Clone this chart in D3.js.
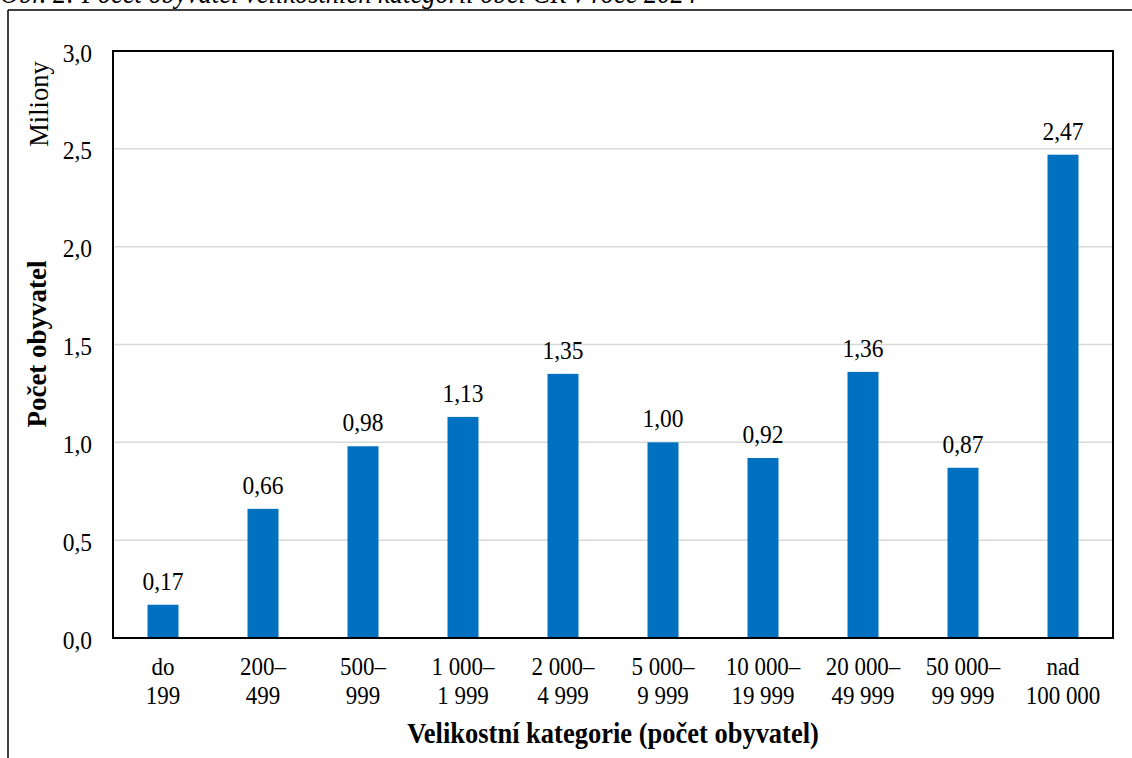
<!DOCTYPE html>
<html><head><meta charset="utf-8">
<script src="https://cdn.jsdelivr.net/npm/d3@7"></script>
<style>body{margin:0;background:#fff}svg{display:block}svg text{font-family:"Liberation Serif","Times New Roman",serif;fill:#000}</style>
</head><body>
<script>
const categories = [["do","199"],["200–","499"],["500–","999"],["1 000–","1 999"],["2 000–","4 999"],["5 000–","9 999"],["10 000–","19 999"],["20 000–","49 999"],["50 000–","99 999"],["nad","100 000"]];
const values = [0.17,0.66,0.98,1.13,1.35,1.00,0.92,1.36,0.87,2.47];
const yTicks = [0,0.5,1.0,1.5,2.0,2.5,3.0];
const title = "Obr. 2: Počet obyvatel velikostních kategorií obcí ČR v roce 2024";

const FF = "Liberation Serif, Times New Roman, serif";
const SY = 1.1; // vertical stretch of the reference's glyphs
const W=1132,H=758;
const svg=d3.select("body").append("svg").attr("width",W).attr("height",H).attr("font-family",FF);
const m={l:113,r:1113,t:51,b:638};
const x=d3.scaleBand().domain(d3.range(values.length)).range([m.l,m.r]).paddingInner(0.69).paddingOuter(0.345);
const y=d3.scaleLinear().domain([0,3]).range([m.b,m.t]);
const fmt=d=>d3.format(".2f")(d).replace(".",",");
const fmt1=d=>d3.format(".1f")(d).replace(".",",");
const tr=(px,py)=>`translate(${px},${py}) scale(1,${SY})`;

// outer frame
svg.append("line").attr("x1",8).attr("x2",W).attr("y1",10).attr("y2",10).attr("stroke","#000").attr("stroke-width",1.5);
svg.append("line").attr("x1",8).attr("x2",8).attr("y1",10).attr("y2",H).attr("stroke","#000").attr("stroke-width",1.5);
svg.append("text").attr("transform",tr(0,3)).attr("font-size",26.5).attr("font-style","italic").attr("fill","#1f2a3c").text(title);

// gridlines
svg.append("g").selectAll("line").data(yTicks.filter(d=>d>0&&d<3)).join("line")
 .attr("x1",m.l).attr("x2",m.r).attr("y1",d=>y(d)).attr("y2",d=>y(d)).attr("stroke","#d9d9d9").attr("stroke-width",1.5);

// bars
svg.append("g").selectAll("rect").data(values).join("rect")
 .attr("x",(d,i)=>x(i)).attr("width",x.bandwidth()).attr("y",d=>y(d)).attr("height",d=>y(0)-y(d)).attr("fill","#0070C0");
svg.append("g").selectAll("text").data(values).join("text")
 .attr("transform",(d,i)=>tr(x(i)+x.bandwidth()/2, y(d)-15)).attr("text-anchor","middle").attr("font-size",23.5).text(d=>fmt(d));

// plot border
svg.append("rect").attr("x",m.l).attr("y",m.t).attr("width",m.r-m.l).attr("height",m.b-m.t).attr("fill","none").attr("stroke","#000").attr("stroke-width",2);

// y axis labels
const ya=svg.append("g").attr("transform",`translate(${m.l},0)`).call(d3.axisLeft(y).tickValues(yTicks).tickSize(0).tickPadding(21).tickFormat(fmt1));
ya.attr("font-family",FF);
ya.select(".domain").remove();
ya.selectAll("text").attr("font-size",23.5).attr("fill","#000").attr("dy",null).attr("y",0)
  .attr("transform",`translate(0,10) scale(1,${SY})`);

// x labels
const xl=svg.append("g").selectAll("text").data(categories).join("text")
 .attr("text-anchor","middle").attr("font-size",23).attr("transform",(d,i)=>tr(x(i)+x.bandwidth()/2,675));
xl.each(function(d){const t=d3.select(this);
 t.append("tspan").attr("x",0).attr("y",0).text(d[0]);
 t.append("tspan").attr("x",0).attr("y",29.5/SY).text(d[1]);});

svg.append("text").attr("transform",tr((m.l+m.r)/2,743)).attr("text-anchor","middle").attr("font-size",26.5).attr("font-weight","bold").text("Velikostní kategorie (počet obyvatel)");
svg.append("text").attr("transform","translate(46,344) rotate(-90)").attr("text-anchor","middle").attr("font-size",27).attr("font-weight","bold").text("Počet obyvatel");
svg.append("text").attr("transform","translate(48,104) rotate(-90)").attr("text-anchor","middle").attr("font-size",26.5).text("Miliony");
</script>
</body></html>
